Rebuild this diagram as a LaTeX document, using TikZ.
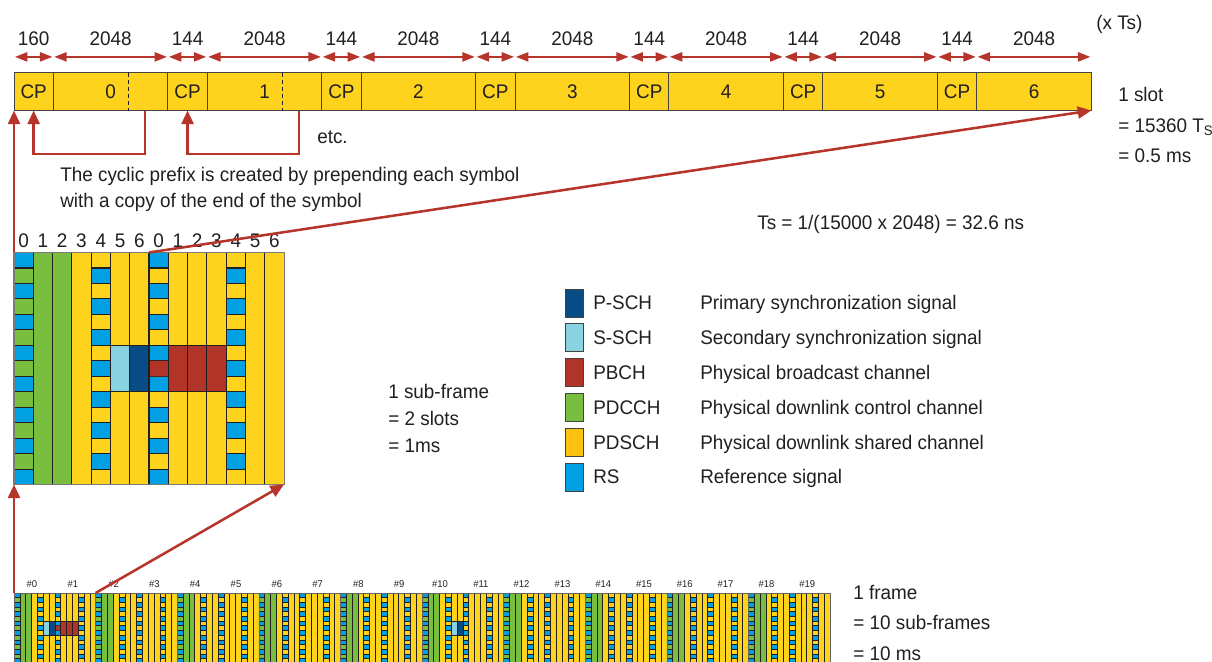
\documentclass[tikz,border=0pt]{standalone}
\usepackage{fontspec}
\setmainfont{Liberation Sans}[FakeStretch=0.96]
\usetikzlibrary{arrows.meta,positioning,calc}
\definecolor{lteYellow}{RGB}{253,211,30}
\definecolor{lteGold}{RGB}{253,193,18}
\definecolor{lteGreen}{RGB}{122,190,64}
\definecolor{lteSky}{RGB}{0,160,226}
\definecolor{lteNavy}{RGB}{8,76,134}
\definecolor{lteAqua}{RGB}{137,210,224}
\definecolor{lteBrick}{RGB}{176,52,40}
\definecolor{lteRed}{RGB}{183,52,42}
\definecolor{lteInk}{RGB}{35,31,32}

% one sub-frame: 14 symbols x 15 rows of unit cells, #1 = extra channels
\newcommand\lteSubframe[1]{%
  \fill[lteYellow] (0,0) rectangle (14,15);
  \fill[lteGreen] (0,0) rectangle (3,15);
  \foreach \r in {0,...,14}{%
    \ifodd\r
      \fill[lteSky] (4,\r) rectangle ++(1,1) (11,\r) rectangle ++(1,1);
    \else
      \fill[lteSky] (0,\r) rectangle ++(1,1) (7,\r) rectangle ++(1,1);
    \fi
    \draw[gridline] (0,\r) -- (1,\r) (4,\r) -- (5,\r) (7,\r) -- (8,\r) (11,\r) -- (12,\r);
  }
  #1
  \foreach \c in {1,...,13} \draw[gridline] (\c,0) -- (\c,15);
  \draw[gridframe] (0,0) rectangle (14,15);
}
\newcommand\lteSync{%
  \fill[lteAqua] (5,6) rectangle (6,9);
  \fill[lteNavy] (6,6) rectangle (7,9);
  \draw[gridline] (5,6) -- (7,6) (5,9) -- (7,9);
}
\newcommand\lteBcast{%
  \fill[lteBrick] (7,7) rectangle (8,8) (8,6) rectangle (11,9);
  \draw[gridline] (8,6) -- (11,6) (8,9) -- (11,9);
}

\begin{document}
\begin{tikzpicture}[x=0.025cm,y=-0.025cm,
    font=\fontsize{14}{17}\selectfont,text=lteInk,
    cpbox/.style={draw=lteInk!85,line width=0.7pt,fill=lteYellow,anchor=north west,
      minimum width=0.9825cm,minimum height=0.95cm,inner sep=0pt,outer sep=0pt},
    symbox/.style={cpbox,minimum width=2.865cm},
    dimarrow/.style={{Triangle[length=3.1mm,width=2.3mm]}-{Triangle[length=3.1mm,width=2.3mm]},
      draw=lteRed,line width=1.3pt,shorten <=0.7pt,shorten >=0.7pt},
    dimlabel/.style={midway,yshift=4.5mm},
    redarrow/.style={-{Triangle[length=3.4mm,width=3mm]},draw=lteRed,line width=1.8pt},
    cutline/.style={draw=lteInk,line width=0.6pt,dash pattern=on 3pt off 2pt},
    gridline/.style={draw=lteInk,line width=0.8pt},
    gridframe/.style={draw=lteInk!60,line width=0.8pt},
    legbox/.style={draw=lteInk!85,line width=0.7pt,minimum width=0.45cm,minimum height=0.7cm,inner sep=0pt},
    lbl/.style={anchor=base west,inner sep=0pt},
    slotlabel/.style={font=\fontsize{7}{8}\selectfont,inner sep=0pt}
  ]
  \useasboundingbox (0,0) rectangle (1212,662);

  % one slot: 7 symbols with their cyclic prefix
  \foreach \i in {0,...,6}{
    \node[cpbox] (cp\i) at ({14+153.9*\i},72.5) {CP};
    \node[symbox,right=0pt of cp\i] (sym\i) {\i};
    \draw[dimarrow] ([yshift=3.9mm]cp\i.north west) -- ([yshift=3.9mm]cp\i.north east)
      node[dimlabel] {\ifnum\i=0 160\else 144\fi};
    \draw[dimarrow] ([yshift=3.9mm]sym\i.north west) -- ([yshift=3.9mm]sym\i.north east)
      node[dimlabel] {2048};
  }
  \node[lbl] (units) at (1096,30) {(x Ts)};
  \foreach \i in {0,1}{
    \draw[cutline] ([xshift=1.875cm]sym\i.north west) -- ([xshift=1.875cm]sym\i.south west);
    \draw[redarrow] ([xshift=2.29cm]sym\i.south west) -- ++(0,43.5) -| (cp\i.south);
  }
  \node[lbl] (etc) at (317,144) {etc.};
  \foreach \t [count=\k from 0] in {The cyclic prefix is created by prepending each symbol,
      with a copy of the end of the symbol}
    \node[lbl] (cpnote\k) at (60,{182+26*\k}) {\t};
  \foreach \t [count=\k from 0] in {1 slot,= 15360 T\textsubscript{S},= 0.5 ms}
    \node[lbl] (slot\k) at (1118,{102+30.5*\k}) {\t};
  \node[lbl] (tsnote) at (757,230) {Ts = 1/(15000 x 2048) = 32.6 ns};

  % sub-frame grid
  \foreach \c in {0,...,13}{
    \pgfmathtruncatemacro\s{mod(\c,7)}
    \node[inner sep=0pt] (hd\c) at ({14+19.286*(\c+0.5)},241) {\s};
  }
  \begin{scope}[shift={(14,252.5)},x=4.8215mm,y=-3.8667mm]
    \lteSubframe{\lteSync\lteBcast}
  \end{scope}
  \coordinate (sf nw) at (14,252.5);
  \coordinate (sf mid) at (149,252.5);
  \coordinate (sf sw) at (14,484.5);
  \coordinate (sf se) at (284,484.5);
  \foreach \t [count=\k from 0] in {1 sub-frame,= 2 slots,= 1ms}
    \node[lbl] (sfnote\k) at (388,{399+26.5*\k}) {\t};

  % legend
  \foreach \c/\abbr/\desc [count=\k from 0] in {lteNavy/P-SCH/Primary synchronization signal,
      lteAqua/S-SCH/Secondary synchronization signal,lteBrick/PBCH/Physical broadcast channel,
      lteGreen/PDCCH/Physical downlink control channel,lteGold/PDSCH/Physical downlink shared channel,
      lteSky/RS/Reference signal}{
    \node[legbox,fill=\c] (leg\k) at (574,{303+34.8*\k}) {};
    \node[lbl] (abbr\k) at (593,{310+34.8*\k}) {\abbr};
    \node[lbl] (desc\k) at (700,{310+34.8*\k}) {\desc};
  }

  % whole frame: 20 slots
  \foreach \n in {0,...,19}
    \node[slotlabel] (sl\n) at ({14+40.8*\n+18},584) {\#\n};
  \foreach \k in {0,...,9}{
    \begin{scope}[shift={({14+81.6*\k},593)},x=1.4576mm,y=-1.1689mm,
        gridline/.style={draw=lteInk,line width=0.35pt},
        gridframe/.style={draw=lteInk!70,line width=0.4pt}]
      \ifnum\k=0 \lteSubframe{\lteSync\lteBcast}\else
        \ifnum\k=5 \lteSubframe{\lteSync}\else \lteSubframe{}\fi\fi
    \end{scope}
  }
  \coordinate (fr nw) at (14,593);
  \coordinate (fr mid) at (95.6,593);
  \foreach \t [count=\k from 0] in {1 frame,= 10 sub-frames,= 10 ms}
    \node[lbl] (frnote\k) at (853,{599+30.5*\k}) {\t};

  \draw[redarrow] (sf nw) -- (cp0.south west);
  \draw[redarrow] (sf mid) -- (sym6.south east);
  \draw[redarrow] (fr nw) -- (sf sw);
  \draw[redarrow] (fr mid) -- (sf se);
\end{tikzpicture}
\end{document}
